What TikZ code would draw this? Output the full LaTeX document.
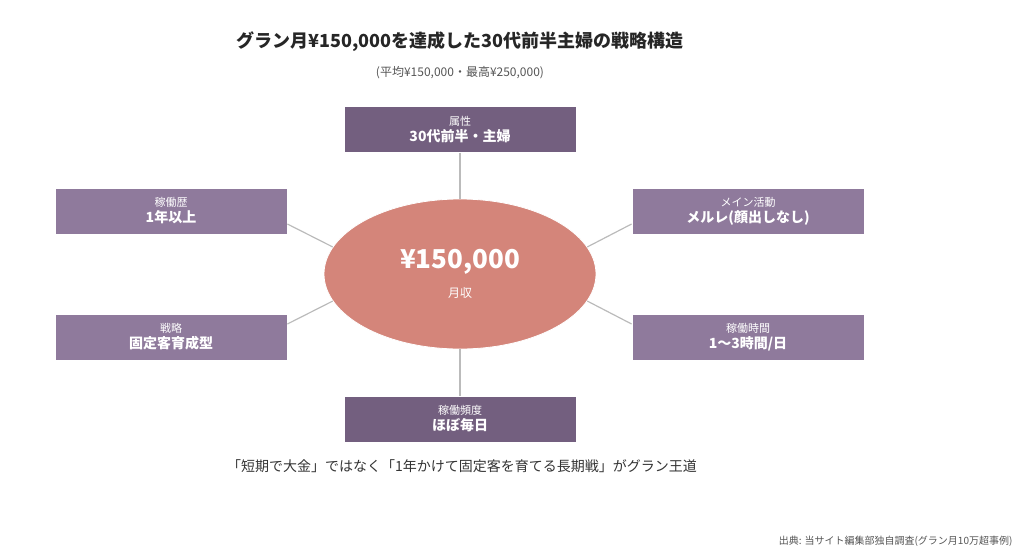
\documentclass[tikz,border=0pt]{standalone}
\usepackage{fontspec}
\setmainfont{Noto Sans CJK JP}
\usetikzlibrary{shapes.geometric}
\definecolor{darkbox}{HTML}{735F7F}
\definecolor{lightbox}{HTML}{8F7A9C}
\definecolor{ellfill}{HTML}{D4857A}
\definecolor{linkgray}{HTML}{BBBBBB}
\definecolor{txtgray}{HTML}{555555}
\tikzset{
  infobox/.style={minimum width=232pt, minimum height=46pt, draw=white, line width=0.8pt,
    text=white, align=center, inner sep=0pt},
  link/.style={draw=linkgray, line width=1.2pt},
}
\newcommand{\boxtext}[2]{{\fontsize{11}{14}\selectfont #1}\\[2pt]{\fontsize{14}{17}\selectfont\bfseries #2}}

\begin{document}
\begin{tikzpicture}[x=1pt, y=-1pt]
		\useasboundingbox (0,0) rectangle (1024,557);
		\node[font=\fontsize{18}{22}\selectfont\bfseries, text=black!85] (title) at (460,42) {グラン月¥150,000を達成した30代前半主婦の戦略構造};
		\node[font=\fontsize{12}{15}\selectfont, text=txtgray] (sub) at (460,73) {(平均¥150,000・最高¥250,000)};
		
		\node[ellipse, fill=ellfill, draw=white, line width=0.8pt, minimum width=272pt, minimum height=150pt] (ell) at (460,274) {};
		\node[text=white, font=\fontsize{26}{30}\selectfont\bfseries] (amount) at (460,262) {¥150,000};
		\node[text=white, font=\fontsize{12}{15}\selectfont] (label) at (460,293) {月収};
		
		\node[infobox, fill=darkbox] (top) at (460,129.5) {\boxtext{属性}{30代前半・主婦}};
		\node[infobox, fill=darkbox] (bottom) at (460,419) {\boxtext{稼働頻度}{ほぼ毎日}};
		\node[infobox, fill=lightbox] (lu) at (171,211) {\boxtext{稼働歴}{1年以上}};
		\node[infobox, fill=lightbox] (ll) at (171,337) {\boxtext{戦略}{固定客育成型}};
		\node[infobox, fill=lightbox] (ru) at (748,211) {\boxtext{メイン活動}{メルレ(顔出しなし)}};
		\node[infobox, fill=lightbox] (rl) at (748,337) {\boxtext{稼働時間}{1〜3時間/日}};
		
		\draw[link] (top) -- (ell);
		\draw[link] (bottom) -- (ell);
		\draw[link] ([yshift=-13pt]lu.east) -- (ell.168);
		\draw[link] ([yshift=13pt]ll.east) -- (ell.192);
		\draw[link] ([yshift=-13pt]ru.west) -- (ell.12);
		\draw[link] ([yshift=13pt]rl.west) -- (ell.-12);
		
		\node[font=\fontsize{14}{17}\selectfont, text=black!80] (note) at (462,466) {「短期で大金」ではなく「1年かけて固定客を育てる長期戦」がグラン王道};
		\node[anchor=east, font=\fontsize{10}{12}\selectfont, text=txtgray] (src) at (1016,541) {出典: 当サイト編集部独自調査(グラン月10万超事例)};
\end{tikzpicture}
\end{document}
